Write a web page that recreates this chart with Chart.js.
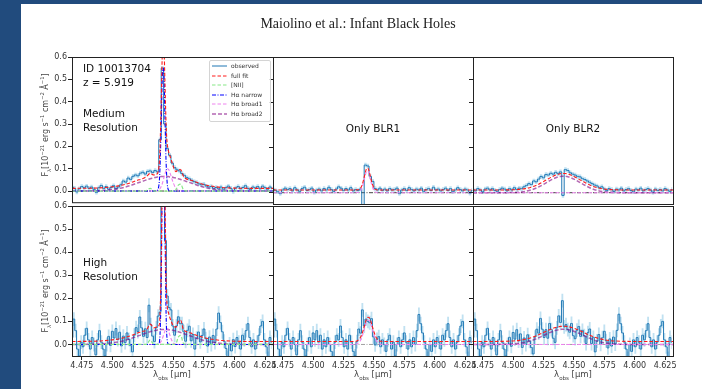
<!doctype html>
<html><head><meta charset="utf-8">
<title>Maiolino et al.: Infant Black Holes</title>
<script src="https://cdn.jsdelivr.net/npm/chart.js"></script>
<style>
  html, body { margin: 0; padding: 0; background: #fff; }
  body { width: 702px; height: 389px; position: relative; overflow: hidden; font-family: "DejaVu Sans", sans-serif; }
  .band-left { position: absolute; left: 0; top: 0; width: 21px; height: 389px; background: #214b7d; }
  .band-top { position: absolute; left: 0; top: 0; width: 702px; height: 4px; background: #214b7d; }
  #plots canvas { position: absolute; }
  #overlay { position: absolute; left: 0; top: 0; width: 702px; height: 389px; z-index: 5; }
  .txt { position: absolute; white-space: nowrap; line-height: 1; color: #111; font-size: 10.5px; }
  .ctr { transform: translateX(-50%); }
  .title { position: absolute; left: 358px; top: 17px; transform: translateX(-50%); font-family: "Liberation Serif", serif; font-size: 14px; line-height: 1; color: #222; white-space: nowrap; }
  .ylab { position: absolute; left: 46px; white-space: nowrap; font-size: 8px; line-height: 1; color: #444; transform: translate(-50%, -50%) rotate(-90deg); }
  .ylab sup, .ylab sub, .xlab sub { font-size: 65%; line-height: 0; }
  .xlab { position: absolute; top: 370px; white-space: nowrap; font-size: 8.5px; line-height: 1; color: #444; transform: translateX(-50%); }
  .legend { position: absolute; left: 209px; top: 60px; width: 60px; height: 60px; border: 1px solid #d4d4d4; border-radius: 2px; background: rgba(255,255,255,0.85); }
  .legend .row { position: absolute; left: 2px; height: 8px; font-size: 6px; line-height: 8px; color: #333; white-space: nowrap; }
  .legend svg { position: absolute; left: 0; top: 2px; }
  .legend span { position: absolute; left: 19px; top: 0; }
</style>
</head><body>
<div class="band-left"></div>
<div class="band-top"></div>
<div id="plots"></div>
<div id="overlay">
  <div class="title">Maiolino et al.: Infant Black Holes</div>

  <div class="txt" style="left:83px;top:63px">ID 10013704</div>
  <div class="txt" style="left:83px;top:77px">z = 5.919</div>
  <div class="txt" style="left:83px;top:108px">Medium</div>
  <div class="txt" style="left:83px;top:122px">Resolution</div>
  <div class="txt ctr" style="left:373px;top:123px">Only BLR1</div>
  <div class="txt ctr" style="left:573px;top:123px">Only BLR2</div>
  <div class="txt" style="left:83px;top:257px">High</div>
  <div class="txt" style="left:83px;top:271px">Resolution</div>

  <div class="ylab" style="top:125px">F<sub>λ</sub>[10<sup>−21</sup> erg s<sup>−1</sup> cm<sup>−2</sup> Å<sup>−1</sup>]</div>
  <div class="ylab" style="top:281px">F<sub>λ</sub>[10<sup>−21</sup> erg s<sup>−1</sup> cm<sup>−2</sup> Å<sup>−1</sup>]</div>

  <div class="xlab" style="left:172px">λ<sub>obs</sub> [μm]</div>
  <div class="xlab" style="left:373px">λ<sub>obs</sub> [μm]</div>
  <div class="xlab" style="left:573px">λ<sub>obs</sub> [μm]</div>

  <div class="legend">
    <div class="row" style="top:1px"><svg width="15" height="4"><line x1="0" y1="2" x2="15" y2="2" stroke="#1f77b4" stroke-width="1"/></svg><span>observed</span></div>
    <div class="row" style="top:10.5px"><svg width="15" height="4"><line x1="0" y1="2" x2="15" y2="2" stroke="#ff1a1a" stroke-width="1" stroke-dasharray="3.5 2"/></svg><span>full fit</span></div>
    <div class="row" style="top:20px"><svg width="15" height="4"><line x1="0" y1="2" x2="15" y2="2" stroke="#88e888" stroke-width="1.2" stroke-dasharray="3.5 2"/></svg><span>[NII]</span></div>
    <div class="row" style="top:29.5px"><svg width="15" height="4"><line x1="0" y1="2" x2="15" y2="2" stroke="#0000ff" stroke-width="1" stroke-dasharray="4 1.5 1 1.5"/></svg><span>Hα narrow</span></div>
    <div class="row" style="top:39px"><svg width="15" height="4"><line x1="0" y1="2" x2="15" y2="2" stroke="#ee82ee" stroke-width="1" stroke-dasharray="3.5 2"/></svg><span>Hα broad1</span></div>
    <div class="row" style="top:48.5px"><svg width="15" height="4"><line x1="0" y1="2" x2="15" y2="2" stroke="rgba(128,0,128,0.6)" stroke-width="1.5" stroke-dasharray="4 2"/></svg><span>Hα broad2</span></div>
  </div>
</div>

<script>
// axis ranges and ticks
const X_MIN = 4.467, X_MAX = 4.6315;
const Y_MIN = -0.05, Y_MAX = 0.6;
const X_TICKS = [4.475, 4.5, 4.525, 4.55, 4.575, 4.6, 4.625];
const Y_TICKS = [0, 0.1, 0.2, 0.3, 0.4, 0.5, 0.6];

// wavelength sampling of the spectra (µm)
const MED_START = 4.467, MED_STEP = 0.002;
const HIGH_START = 4.467, HIGH_STEP = 0.0015;
const MED_ERR = 0.01, HIGH_ERR = 0.03;

// observed spectra, medium resolution (top row)
const MED_OBS_FULL = [0.018,0.012,-0.004,0.010,0.020,0.015,0.022,0.012,0.018,0.008,
  -0.006,0.015,0.025,0.012,0.020,0.008,0.016,0.024,0.010,0.018,
  0.028,0.045,0.040,0.058,0.052,0.066,0.072,0.068,0.080,0.084,
  0.076,0.088,0.090,0.083,0.092,0.086,0.230,0.550,0.300,0.190,
  0.160,0.125,0.105,0.095,0.090,0.078,0.070,0.060,0.055,0.048,
  0.042,0.038,0.032,0.028,0.030,0.022,0.018,0.020,0.012,0.016,
  0.010,0.018,0.008,0.015,0.022,0.012,-0.002,0.014,0.020,0.010,
  0.016,0.024,0.012,0.006,0.018,0.014,0.020,0.010,0.022,0.015,
  0.008,0.018,0.012];
const MED_OBS_BLR1 = [0.016,0.010,0.004,-0.004,0.012,0.020,0.014,0.018,0.008,0.022,
  0.012,0.006,0.018,0.024,0.010,0.014,0.020,0.002,0.012,0.016,
  0.008,0.018,0.012,0.024,0.014,0.006,0.016,0.026,0.020,0.010,
  0.018,0.012,0.022,0.008,0.014,0.010,0.016,-0.070,0.122,0.118,
  0.072,0.050,0.018,0.012,0.020,0.010,0.016,0.008,0.018,0.012,
  0.014,0.020,-0.004,0.012,0.018,0.010,0.022,0.014,0.008,0.016,
  0.012,0.020,0.006,0.014,0.018,0.010,0.024,0.012,0.016,0.008,
  0.014,0.020,0.010,0.018,0.004,0.012,0.022,0.014,0.008,0.016,
  0.012,-0.002,0.010];
const MED_OBS_BLR2 = [0.014,0.008,0.018,0.012,0.004,0.016,0.020,0.012,0.018,0.010,
  0.006,0.014,0.020,0.016,0.008,0.018,0.012,0.022,0.014,0.020,
  0.018,0.026,0.032,0.040,0.036,0.052,0.048,0.060,0.072,0.066,
  0.080,0.078,0.086,0.082,0.090,0.084,0.092,-0.012,0.102,0.098,
  0.088,0.082,0.078,0.072,0.070,0.062,0.058,0.052,0.046,0.040,
  0.034,0.030,0.022,0.026,0.016,0.010,0.018,0.014,0.006,0.016,
  0.012,0.020,0.008,0.014,0.018,0.010,0.004,0.016,0.012,0.020,
  0.008,0.014,0.018,0.012,0.002,0.016,0.010,0.014,0.008,0.018,
  0.012,0.006,0.014];

// observed spectra, high resolution (bottom row)
const HIGH_OBS_FULL = [0.03,0.11,0.06,-0.02,-0.05,0.01,-0.01,0.04,0.07,0.02,
  -0.02,0.03,0.00,-0.045,0.02,0.06,0.01,-0.02,-0.05,0.00,
  0.035,-0.004,0.057,0.028,0.069,0.021,0.053,-0.006,0.036,0.008,
  0.05,0.022,-0.005,-0.032,0.04,0.073,0.056,0.119,0.072,0.035,
  0.068,0.03,0.17,0.086,0.036,0.013,0.072,0.123,0.14,0.675,
  1.05,0.45,0.21,0.16,0.15,0.08,0.04,0.08,0.12,0.09,
  0.09,0.055,0.014,0.061,0.079,0.016,0.043,-0.02,0.027,0.054,
  0.011,0.039,0.067,0.025,-0.007,0.032,0.0,0.039,0.008,0.067,
  0.136,0.095,0.055,0.014,-0.017,-0.057,0.002,-0.028,0.021,-0.009,
  0.03,0.01,-0.02,0.04,0.02,0.06,0.09,0.03,-0.01,0.02,
  -0.02,0.01,0.04,0.08,0.10,0.02,-0.01,-0.06,0.03,0.01];
const HIGH_OBS_BLR1 = [0.03,0.11,0.06,-0.02,-0.05,0.01,-0.01,0.04,0.07,0.02,
  -0.02,0.03,0.00,-0.045,0.02,0.06,0.01,-0.02,-0.05,0.00,
  0.03,-0.01,0.05,0.02,0.06,0.01,0.04,-0.02,0.02,-0.01,
  0.03,0.00,-0.03,-0.06,0.01,0.04,0.02,0.08,0.03,-0.01,
  0.02,-0.02,0.04,0.01,-0.03,-0.05,0.012,0.067,0.049,0.15,
  0.08,0.11,0.10,0.094,0.112,0.033,-0.002,0.022,0.034,-0.01,
  0.02,0.00,-0.03,0.02,0.04,-0.02,0.01,-0.05,0.00,0.03,
  -0.01,0.02,0.05,0.01,-0.02,0.02,-0.01,0.03,0.00,0.06,
  0.13,0.09,0.05,0.01,-0.02,-0.06,0.00,-0.03,0.02,-0.01,
  0.03,0.01,-0.02,0.04,0.02,0.06,0.09,0.03,-0.01,0.02,
  -0.02,0.01,0.04,0.08,0.10,0.02,-0.01,-0.06,0.03,0.01];
const HIGH_OBS_BLR2 = [0.03,0.11,0.06,-0.02,-0.05,0.01,-0.01,0.04,0.07,0.02,
  -0.02,0.03,0.00,-0.045,0.02,0.06,0.01,-0.02,-0.05,0.00,
  0.031,-0.008,0.052,0.023,0.064,0.015,0.046,-0.013,0.028,0.0,
  0.042,0.014,-0.013,-0.041,0.032,0.066,0.049,0.113,0.066,0.030,
  0.064,0.027,0.091,0.064,0.027,0.009,0.072,0.124,0.095,0.19,
  0.076,0.086,0.064,0.053,0.091,0.038,0.025,0.062,0.078,0.035,
  0.061,0.038,0.004,0.051,0.067,0.004,0.031,-0.032,0.015,0.043,
  0.001,0.029,0.057,0.016,-0.015,0.024,-0.007,0.032,0.002,0.061,
  0.131,0.09,0.05,0.01,-0.02,-0.06,0.00,-0.03,0.02,-0.01,
  0.03,0.01,-0.02,0.04,0.02,0.06,0.09,0.03,-0.01,0.02,
  -0.02,0.01,0.04,0.08,0.10,0.02,-0.01,-0.06,0.03,0.01];

// fit models, sampled on a shared wavelength list
const MODEL_X = [4.467,4.48,4.49,4.5,4.505,4.51,4.515,4.52,4.525,4.528,4.531,4.534,4.536,4.538,4.539,4.54,4.541,4.542,4.543,4.544,4.545,4.546,4.547,4.548,4.55,4.552,4.554,4.556,4.558,4.56,4.565,4.57,4.575,4.58,4.59,4.6,4.615,4.6315];

const MED_FULL_FIT = [0.012,0.0125,0.014,0.019,0.023,0.029,0.037,0.047,0.056,0.065,0.079,0.072,0.074,0.101,0.186,0.397,0.632,0.682,0.502,0.299,0.207,0.178,0.160,0.143,0.108,0.087,0.096,0.095,0.068,0.056,0.047,0.037,0.029,0.023,0.016,0.013,0.012,0.012];
const MED_NII = [0,0,0,0,0,0,0,0,0,0.003,0.012,0.001,0,0,0,0,0,0,0,0,0,0,0,0,0,0.005,0.026,0.031,0.0075,0.0003,0,0,0,0,0,0,0,0];
const MED_NARROW = [0,0,0,0,0,0,0,0,0,0,0,0,0,0.021,0.10,0.30,0.52,0.55,0.35,0.13,0.03,0.004,0,0,0,0,0,0,0,0,0,0,0,0,0,0,0,0];
const MED_BROAD1 = [0,0,0,0,0,0,0,0,0,0,0,0,0,0.005,0.01,0.02,0.035,0.055,0.075,0.092,0.10,0.097,0.085,0.068,0.035,0.012,0.003,0,0,0,0,0,0,0,0,0,0,0];
const BROAD2_FIT = [0,0.0005,0.002,0.007,0.011,0.017,0.025,0.035,0.044,0.050,0.055,0.059,0.062,0.063,0.064,0.065,0.065,0.065,0.065,0.065,0.065,0.065,0.063,0.063,0.061,0.058,0.055,0.052,0.048,0.044,0.035,0.025,0.017,0.011,0.004,0.001,0,0];

const HIGH_FULL_FIT = [0.013,0.0135,0.015,0.020,0.024,0.030,0.038,0.048,0.057,0.063,0.088,0.072,0.075,0.081,0.123,0.352,0.874,1.100,0.686,0.282,0.162,0.137,0.118,0.102,0.080,0.075,0.100,0.105,0.067,0.057,0.048,0.038,0.030,0.024,0.017,0.014,0.013,0.013];
const HIGH_NII = [0,0,0,0,0,0,0,0,0,0,0.020,0,0,0,0,0,0,0,0,0,0,0,0,0,0,0.003,0.032,0.040,0.006,0,0,0,0,0,0,0,0,0];
const HIGH_NARROW = [0,0,0,0,0,0,0,0,0,0,0,0,0,0.003,0.04,0.26,0.77,0.98,0.55,0.135,0.015,0.001,0,0,0,0,0,0,0,0,0,0,0,0,0,0,0,0];
const HIGH_BROAD1 = [0,0,0,0,0,0,0,0,0,0,0,0,0,0.002,0.006,0.014,0.026,0.042,0.058,0.069,0.069,0.058,0.042,0.026,0.006,0.001,0,0,0,0,0,0,0,0,0,0,0,0];

const MED_BLR1_FIT = [0.012,0.012,0.012,0.012,0.012,0.012,0.012,0.012,0.012,0.012,0.012,0.012,0.0125,0.015,0.020,0.030,0.047,0.069,0.091,0.107,0.109,0.096,0.074,0.051,0.0215,0.013,0.012,0.012,0.012,0.012,0.012,0.012,0.012,0.012,0.012,0.012,0.012,0.012];
const MED_BLR1_BROAD = [0,0,0,0,0,0,0,0,0,0,0,0,0.0005,0.003,0.008,0.018,0.035,0.057,0.079,0.095,0.097,0.084,0.062,0.039,0.0095,0.001,0,0,0,0,0,0,0,0,0,0,0,0];
const HIGH_BLR1_FIT = [0.013,0.013,0.013,0.013,0.013,0.013,0.013,0.013,0.013,0.013,0.013,0.0134,0.0153,0.023,0.031,0.043,0.059,0.077,0.096,0.110,0.118,0.117,0.108,0.092,0.055,0.029,0.017,0.0138,0.013,0.013,0.013,0.013,0.013,0.013,0.013,0.013,0.013,0.013];
const HIGH_BLR1_BROAD = [0,0,0,0,0,0,0,0,0,0,0,0.0004,0.0023,0.010,0.018,0.030,0.046,0.064,0.083,0.097,0.105,0.104,0.095,0.079,0.042,0.016,0.004,0.0008,0,0,0,0,0,0,0,0,0,0];

const MED_BLR2_FIT = [0.012,0.012,0.0121,0.0129,0.0145,0.018,0.0245,0.035,0.049,0.0585,0.0677,0.0757,0.080,0.083,0.084,0.085,0.085,0.085,0.085,0.0837,0.0825,0.081,0.079,0.077,0.072,0.0665,0.060,0.054,0.048,0.042,0.0294,0.0209,0.016,0.0136,0.0121,0.012,0.012,0.012];
const MED_BLR2_BROAD = [0,0,0.0001,0.0009,0.0025,0.006,0.0125,0.023,0.037,0.0465,0.0557,0.0637,0.068,0.071,0.072,0.073,0.073,0.073,0.073,0.0717,0.0705,0.069,0.067,0.065,0.060,0.0545,0.048,0.042,0.036,0.030,0.0174,0.0089,0.004,0.0016,0.0001,0,0,0];
const HIGH_BLR2_FIT = [0.013,0.013,0.0134,0.0153,0.0179,0.0225,0.0298,0.0398,0.0518,0.0592,0.0662,0.0721,0.0752,0.0774,0.0782,0.0787,0.079,0.079,0.079,0.0782,0.0774,0.0764,0.0752,0.0738,0.0703,0.0662,0.0616,0.0568,0.0518,0.0468,0.0355,0.0264,0.0204,0.0166,0.0137,0.0131,0.013,0.013];
const HIGH_BLR2_BROAD = [0,0,0.0004,0.0023,0.0049,0.0095,0.0168,0.0268,0.0388,0.0462,0.0532,0.0591,0.0622,0.0644,0.0652,0.0657,0.066,0.066,0.066,0.0652,0.0644,0.0634,0.0622,0.0608,0.0573,0.0532,0.0486,0.0438,0.0388,0.0338,0.0225,0.0134,0.0074,0.0036,0.0007,0.0001,0,0];

// page layout of the 2x3 grid (pixels)
const PANEL_LEFT = [72, 273, 473];
const PANEL_WIDTH = [201, 200, 200];
const PANEL_TOP = [57, 206];
const PANEL_HEIGHT = [149, 150];

const STYLE = {
  full:   { color: '#ff1a1a', dash: [3.5, 2], width: 1.1, order: 1 },
  nii:    { color: '#88e888', dash: [3.5, 2], width: 1.2, order: 2 },
  narrow: { color: '#0000ff', dash: [4, 1.5, 1, 1.5], width: 1.1, order: 3 },
  broad1: { color: '#ee82ee', dash: [3.5, 2], width: 1.1, order: 4 },
  broad2: { color: 'rgba(128,0,128,0.6)', dash: [4, 2], width: 1.5, order: 5 }
};

const PANELS = [
  { row: 0, col: 0, start: MED_START, step: MED_STEP, obs: MED_OBS_FULL, err: MED_ERR, zero: '#111',
    fits: [[MED_FULL_FIT, 'full'], [MED_NII, 'nii'], [MED_NARROW, 'narrow'], [MED_BROAD1, 'broad1'], [BROAD2_FIT, 'broad2']] },
  { row: 0, col: 1, start: MED_START, step: MED_STEP, obs: MED_OBS_BLR1, err: MED_ERR, zero: '#111',
    fits: [[MED_BLR1_FIT, 'full'], [MED_BLR1_BROAD, 'broad1']] },
  { row: 0, col: 2, start: MED_START, step: MED_STEP, obs: MED_OBS_BLR2, err: MED_ERR, zero: '#111',
    fits: [[MED_BLR2_FIT, 'full'], [null, 'broad1'], [MED_BLR2_BROAD, 'broad2']] },
  { row: 1, col: 0, start: HIGH_START, step: HIGH_STEP, obs: HIGH_OBS_FULL, err: HIGH_ERR, zero: '#888',
    fits: [[HIGH_FULL_FIT, 'full'], [HIGH_NII, 'nii'], [HIGH_NARROW, 'narrow'], [HIGH_BROAD1, 'broad1'], [BROAD2_FIT, 'broad2']] },
  { row: 1, col: 1, start: HIGH_START, step: HIGH_STEP, obs: HIGH_OBS_BLR1, err: HIGH_ERR, zero: '#888',
    fits: [[HIGH_BLR1_FIT, 'full'], [HIGH_BLR1_BROAD, 'broad1']] },
  { row: 1, col: 2, start: HIGH_START, step: HIGH_STEP, obs: HIGH_OBS_BLR2, err: HIGH_ERR, zero: '#888',
    fits: [[HIGH_BLR2_FIT, 'full'], [null, 'broad1'], [HIGH_BLR2_BROAD, 'broad2']] }
];

const flat = [{ x: X_MIN, y: 0 }, { x: X_MAX, y: 0 }];

function fitSet(ys, name) {
  const s = STYLE[name];
  return {
    data: ys ? ys.map((y, i) => ({ x: MODEL_X[i], y })) : flat,
    borderColor: s.color, borderDash: s.dash, borderWidth: s.width, order: s.order,
    cubicInterpolationMode: 'monotone', fill: false, clip: 0
  };
}

function obsSets(p) {
  const pts = p.obs.map((y, i) => ({ x: p.start + p.step * i, y }));
  return [
    { data: pts, borderColor: '#1f77b4', borderWidth: 1, stepped: 'middle', order: 6, fill: false, clip: 0 },
    { data: pts.map(q => ({ x: q.x, y: q.y + p.err })), borderColor: 'rgba(0,0,0,0)', borderWidth: 0,
      stepped: 'middle', order: 7, fill: false, clip: 0 },
    { data: pts.map(q => ({ x: q.x, y: q.y - p.err })), borderColor: 'rgba(0,0,0,0)', borderWidth: 0,
      backgroundColor: 'rgba(150,205,232,0.6)', stepped: 'middle', order: 8, fill: '-1', clip: 0 },
    { data: flat, borderColor: p.zero, borderWidth: 0.8, borderDash: [4, 1.5, 1, 1.5], order: 9, fill: false, clip: 0 }
  ];
}

// spines on all four sides of each panel
const frame = {
  id: 'frame',
  afterDatasetsDraw(chart) {
    const { ctx, chartArea: a } = chart;
    ctx.save();
    ctx.strokeStyle = '#222';
    ctx.lineWidth = 1;
    ctx.setLineDash([]);
    ctx.strokeRect(a.left + 0.5, a.top + 0.5, a.right - a.left, a.bottom - a.top);
    ctx.restore();
  }
};

const tickFont = { family: 'DejaVu Sans', size: 8 };

PANELS.forEach(p => {
  const lpad = p.col === 0 ? 40 : 6, tpad = 8, rpad = 14, bpad = p.row === 1 ? 16 : 2;
  const left = PANEL_LEFT[p.col], top = PANEL_TOP[p.row];
  const w = PANEL_WIDTH[p.col], h = PANEL_HEIGHT[p.row];
  const cv = document.createElement('canvas');
  cv.width = lpad + w + rpad;
  cv.height = tpad + h + bpad;
  cv.style.left = (left - lpad) + 'px';
  cv.style.top = (top - tpad) + 'px';
  cv.style.width = cv.width + 'px';
  cv.style.height = cv.height + 'px';
  document.getElementById('plots').appendChild(cv);

  const datasets = p.fits.map(f => fitSet(f[0], f[1])).concat(obsSets(p));

  new Chart(cv, {
    type: 'line',
    data: { datasets },
    plugins: [frame],
    options: {
      responsive: false,
      animation: false,
      devicePixelRatio: 1,
      events: [],
      layout: { padding: { left: 0, top: tpad, right: rpad, bottom: p.row === 0 ? bpad : 0 } },
      elements: { point: { radius: 0 }, line: { tension: 0 } },
      plugins: { legend: { display: false }, tooltip: { enabled: false } },
      scales: {
        x: {
          type: 'linear', min: X_MIN, max: X_MAX, display: p.row === 1,
          afterBuildTicks: s => { s.ticks = X_TICKS.map(v => ({ value: v })); },
          afterFit: s => { s.height = bpad; },
          border: { display: false },
          grid: { drawOnChartArea: false, drawTicks: true, tickLength: 4, color: '#222' },
          ticks: { font: tickFont, color: '#333', padding: 1, maxRotation: 0, autoSkip: false,
                   callback: v => v.toFixed(3) }
        },
        y: {
          type: 'linear', min: Y_MIN, max: Y_MAX,
          afterBuildTicks: s => { s.ticks = Y_TICKS.map(v => ({ value: v })); },
          afterFit: s => { s.width = lpad; },
          border: { display: false },
          grid: { drawOnChartArea: false, drawTicks: true, tickLength: 4, color: '#222' },
          ticks: { display: p.col === 0, font: tickFont, color: '#333', padding: 1,
                   callback: v => v.toFixed(1) }
        }
      }
    }
  });
});
</script>
</body></html>
